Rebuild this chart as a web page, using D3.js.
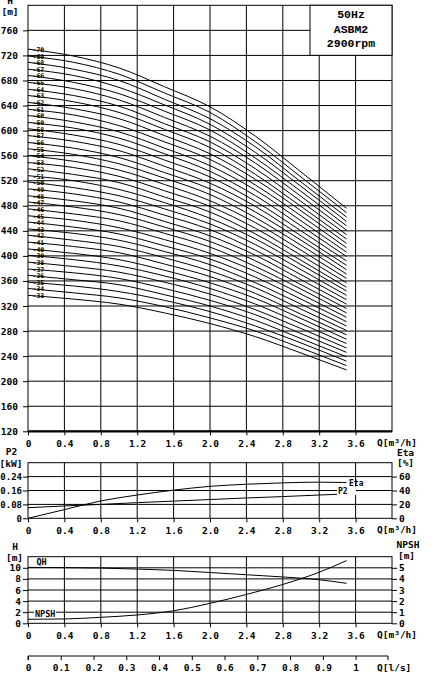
<!DOCTYPE html>
<html><head><meta charset="utf-8">
<script src="https://cdn.jsdelivr.net/npm/d3@7/dist/d3.min.js"></script>
<style>
body{margin:0;background:#fff}
svg text{font-family:"DejaVu Sans Mono",monospace;font-weight:bold;fill:#000}
</style></head><body>
<svg id="c" width="442" height="686"></svg>
<script>
// ---------- data ----------
const qGrid = [0.4,0.8,1.2,1.6,2.0,2.4,2.8,3.2,3.6];
const qTickValues = [0,0.4,0.8,1.2,1.6,2.0,2.4,2.8,3.2,3.6];
const qTickLabels = ["0","0.4","0.8","1.2","1.6","2.0","2.4","2.8","3.2","3.6"];
const lsTickValues = [0,0.1,0.2,0.3,0.4,0.5,0.6,0.7,0.8,0.9,1];
const lsTickLabels = ["0","0.1","0.2","0.3","0.4","0.5","0.6","0.7","0.8","0.9","1"];
const hMainTicks = [120,160,200,240,280,320,360,400,440,480,520,560,600,640,680,720,760];
const p2Ticks = [0,0.08,0.16,0.24];
const p2TickLabels = ["0","0.08","0.16","0.24"];
const etaTicks = [0,20,40,60];
const hTicks = [0,2,4,6,8,10];
const npshTicks = [0,1,2,3,4,5];
const npshTickLabels = ["0","1","2","3","4","5"];

// stage curves: Q [m3/h] and H [m] per number of stages
const qCurve = [0,0.5,1.0,1.5,2.0,2.5,3.0,3.5];
const stageNumbers = [33,34,35,36,37,38,39,40,41,42,43,44,45,46,47,48,49,50,51,52,53,54,55,56,57,58,59,60,61,62,63,64,65,66,67,68,69,70];
const stageHeads = [
 [337,331,323,309,292,271,245,218],
 [348,341,333,319,301,280,253,225],
 [358,352,343,329,311,288,261,232],
 [369,362,354,338,320,297,268,239],
 [379,373,364,348,329,306,276,246],
 [390,383,374,358,339,314,284,253],
 [401,394,384,368,348,323,292,260],
 [411,404,394,377,357,332,300,267],
 [422,415,405,387,367,340,307,274],
 [433,425,415,397,376,349,315,281],
 [443,436,425,407,386,357,323,288],
 [454,446,435,416,395,366,331,295],
 [464,457,445,426,404,375,339,302],
 [475,467,456,436,414,383,347,309],
 [486,478,466,446,423,392,354,316],
 [496,488,476,455,432,401,362,323],
 [507,499,486,465,442,409,370,330],
 [518,509,496,475,451,418,378,337],
 [528,520,506,485,460,427,386,344],
 [539,530,517,494,470,435,393,350],
 [549,541,527,504,479,444,401,357],
 [560,551,537,514,488,453,409,364],
 [571,562,547,524,498,461,417,371],
 [581,572,557,533,507,470,425,378],
 [592,583,568,543,516,479,432,385],
 [603,593,578,553,526,487,440,392],
 [613,604,588,563,535,496,448,399],
 [624,614,598,572,544,505,456,406],
 [634,625,608,582,554,513,464,413],
 [645,635,619,592,563,522,472,420],
 [656,646,629,602,573,530,479,427],
 [666,656,639,611,582,539,487,434],
 [677,667,649,621,591,548,495,441],
 [688,677,659,631,601,556,503,448],
 [698,688,669,641,610,565,511,455],
 [709,698,680,650,619,574,518,462],
 [719,709,690,660,629,582,526,469],
 [730,719,700,670,638,591,534,476]
];

// power / efficiency
const qEta = [0,0.4,0.8,1.2,1.6,2.0,2.4,2.8,3.2,3.5];
const etaValues = [0,12.5,25,33.5,40.5,46,49,51,52,51.5];
const qP2 = [0,0.4,0.8,1.2,1.6,2.0,2.4,2.8,3.2,3.45];
const p2Values = [0.061,0.071,0.080,0.090,0.099,0.108,0.117,0.125,0.134,0.139];

// single stage QH and NPSH
const qSingle = [0,0.4,0.8,1.2,1.6,2.0,2.4,2.8,3.2,3.5];
const qhValues = [10.07,10.03,9.95,9.77,9.53,9.15,8.75,8.35,7.85,7.2];
const npshValues = [0.36,0.39,0.54,0.75,1.13,1.8,2.6,3.5,4.6,5.65];

const infoLines = ["50Hz","ASBM2","2900rpm"];

// ---------- layout ----------
const svg = d3.select("#c");
const X0 = 28, X1 = 392;
const x = d3.scaleLinear().domain([0,4]).range([X0,X1]);
const xLs = d3.scaleLinear().domain([0,4/3.6]).range([X0,X1]);
const yMain = d3.scaleLinear().domain([120,800]).range([431.3,5.3]);
const yP2 = d3.scaleLinear().domain([0,0.32]).range([518.3,462.7]);
const yEta = d3.scaleLinear().domain([0,80]).range([518.3,462.7]);
const yH = d3.scaleLinear().domain([0,12]).range([623.3,556.7]);
const yN = d3.scaleLinear().domain([0,6]).range([623.3,556.7]);

const FS = "9.5px";

function grid(yScale, yVals){
  const g = svg.append("g");
  const [yb, yt] = yScale.range();
  g.selectAll(".v").data(qGrid).enter().append("line")
    .attr("x1", d=>x(d)).attr("x2", d=>x(d)).attr("y1", yt).attr("y2", yb)
    .attr("stroke","#000").attr("stroke-width",1);
  g.selectAll(".h").data(yVals).enter().append("line")
    .attr("x1", X0).attr("x2", X1).attr("y1", d=>yScale(d)).attr("y2", d=>yScale(d))
    .attr("stroke","#000").attr("stroke-width",1);
  g.append("rect").attr("x",X0).attr("y",yt).attr("width",X1-X0).attr("height",yb-yt)
    .attr("fill","none").attr("stroke","#000").attr("stroke-width",1);
  return g;
}

function styleAxis(g, fs){
  g.selectAll("path.domain").remove();
  g.selectAll("text").style("font-size",fs||FS).style("font-family","'DejaVu Sans Mono',monospace").style("font-weight","bold");
  g.selectAll("line").attr("stroke","#000");
}

function xAxisAt(yPos, labelY){
  const g = svg.append("g").attr("transform",`translate(0,${yPos})`)
    .call(d3.axisBottom(x).tickValues(qTickValues).tickFormat((d,i)=>qTickLabels[i]).tickSize(4).tickPadding(5));
  styleAxis(g);
  svg.append("text").attr("x",377).attr("y",labelY).style("font-size",FS).text("Q[m³/h]");
}

// ---------- main chart ----------
grid(yMain, hMainTicks.filter(d=>d>120));
svg.append("line").attr("x1",X0).attr("x2",X1).attr("y1",yMain(120)).attr("y2",yMain(120))
  .attr("stroke","#000").attr("stroke-width",2.2);
{
  const g = svg.append("g").attr("transform",`translate(${X0},0)`)
    .call(d3.axisLeft(yMain).tickValues(hMainTicks).tickSize(5).tickPadding(5));
  styleAxis(g);
}
xAxisAt(yMain(120), 446);
svg.append("text").attr("x",10).attr("y",4).attr("text-anchor","middle").style("font-size",FS).text("H");
svg.append("text").attr("x",10).attr("y",15).attr("text-anchor","middle").style("font-size",FS).text("[m]");

const line = d3.line().curve(d3.curveMonotoneX);
const curves = svg.append("g");
stageHeads.forEach((row,i)=>{
  curves.append("path")
    .attr("d", line(row.map((h,j)=>[x(qCurve[j]), yMain(h)])))
    .attr("fill","none").attr("stroke","#000").attr("stroke-width",1);
});
stageHeads.forEach((row,i)=>{
  curves.append("text").attr("x",32.5).attr("y",yMain(row[0])+2.8)
    .style("font-size","6.5px").text("-"+stageNumbers[i]);
});

// info box
svg.append("rect").attr("x",310).attr("y",5.3).attr("width",82).attr("height",50)
  .attr("fill","#fff").attr("stroke","#000").attr("stroke-width",1);
infoLines.forEach((t,i)=>{
  svg.append("text").attr("x",351).attr("y",18+i*14.5).attr("text-anchor","middle")
    .style("font-family","'Liberation Mono',monospace").style("font-size","11.5px").text(t);
});

// ---------- power / efficiency ----------
grid(yP2, [0.08,0.16,0.24]);
{
  const g = svg.append("g").attr("transform",`translate(${X0},0)`)
    .call(d3.axisLeft(yP2).tickValues(p2Ticks).tickFormat((d,i)=>p2TickLabels[i]).tickSize(5).tickPadding(1));
  styleAxis(g, "9px");
  const g2 = svg.append("g").attr("transform",`translate(${X1},0)`)
    .call(d3.axisRight(yEta).tickValues(etaTicks).tickSize(5).tickPadding(2));
  styleAxis(g2);
}
xAxisAt(yP2(0), 533);
svg.append("text").attr("x",11.5).attr("y",455).attr("text-anchor","middle").style("font-size",FS).text("P2");
svg.append("text").attr("x",11).attr("y",466.5).attr("text-anchor","middle").style("font-size",FS).text("[kW]");
svg.append("text").attr("x",405.5).attr("y",456).attr("text-anchor","middle").style("font-size",FS).text("Eta");
svg.append("text").attr("x",405.5).attr("y",465.5).attr("text-anchor","middle").style("font-size",FS).text("[%]");

const lineM = d3.line().curve(d3.curveMonotoneX);
svg.append("path").attr("d", lineM(qEta.map((q,i)=>[x(q), yEta(etaValues[i])])))
  .attr("fill","none").attr("stroke","#000").attr("stroke-width",1);
svg.append("path").attr("d", lineM(qP2.map((q,i)=>[x(q), yP2(p2Values[i])])))
  .attr("fill","none").attr("stroke","#000").attr("stroke-width",1);
svg.append("rect").attr("x",337).attr("y",486.5).attr("width",19).attr("height",8.5).attr("fill","#fff");
svg.append("text").attr("x",338).attr("y",494).style("font-size","8px").text("P2");
svg.append("text").attr("x",349).attr("y",485.5).style("font-size","8px").text("Eta");

// ---------- single stage QH / NPSH ----------
grid(yH, [2,4,6,8,10]);
{
  const g = svg.append("g").attr("transform",`translate(${X0},0)`)
    .call(d3.axisLeft(yH).tickValues(hTicks).tickSize(5).tickPadding(2));
  styleAxis(g);
  const g2 = svg.append("g").attr("transform",`translate(${X1},0)`)
    .call(d3.axisRight(yN).tickValues(npshTicks).tickFormat((d,i)=>npshTickLabels[i]).tickSize(5).tickPadding(2));
  styleAxis(g2);
}
xAxisAt(yH(0), 637.5);
svg.append("text").attr("x",15).attr("y",550).attr("text-anchor","middle").style("font-size",FS).text("H");
svg.append("text").attr("x",14.5).attr("y",561).attr("text-anchor","middle").style("font-size",FS).text("[m]");
svg.append("text").attr("x",408).attr("y",548).attr("text-anchor","middle").style("font-size",FS).text("NPSH");
svg.append("text").attr("x",406.5).attr("y",558.5).attr("text-anchor","middle").style("font-size",FS).text("[m]");

svg.append("path").attr("d", lineM(qSingle.map((q,i)=>[x(q), yH(qhValues[i])])))
  .attr("fill","none").attr("stroke","#000").attr("stroke-width",1);
svg.append("path").attr("d", lineM(qSingle.map((q,i)=>[x(q), yN(npshValues[i])])))
  .attr("fill","none").attr("stroke","#000").attr("stroke-width",1);
svg.append("text").attr("x",36.5).attr("y",565).style("font-size","8.5px").text("QH");
svg.append("rect").attr("x",34).attr("y",609.5).attr("width",22).attr("height",8).attr("fill","#fff");
svg.append("text").attr("x",35).attr("y",617).style("font-size","8.5px").text("NPSH");

// ---------- l/s axis ----------
{
  const g = svg.append("g").attr("transform","translate(0,656)")
    .call(d3.axisBottom(xLs).tickValues(lsTickValues).tickFormat((d,i)=>lsTickLabels[i]).tickSize(4).tickPadding(4));
  g.select("path.domain").attr("stroke","#000").attr("d",`M${X0},4V0H${X1-4}V4`);
  g.selectAll("text").style("font-size",FS).style("font-family","'DejaVu Sans Mono',monospace").style("font-weight","bold");
  g.selectAll("line").attr("stroke","#000");
  svg.append("text").attr("x",377).attr("y",670.5).style("font-size",FS).text("Q[l/s]");
}
</script>
</body></html>
